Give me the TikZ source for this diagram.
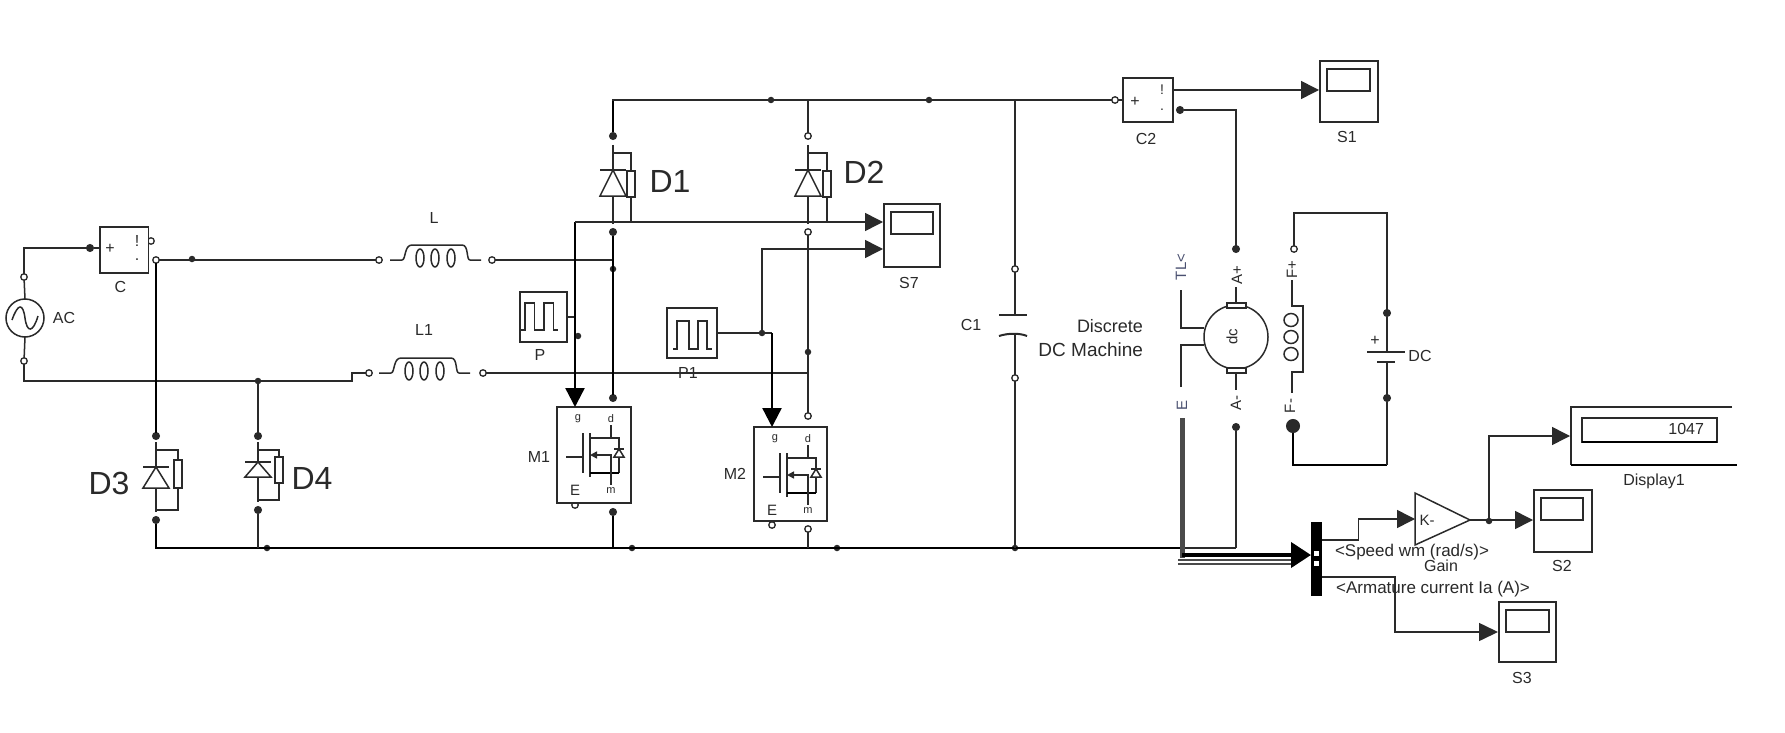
\documentclass[tikz,border=0pt]{standalone}
\usepackage{fontspec}
\setmainfont{Liberation Sans}
\usetikzlibrary{arrows.meta,calc}
\definecolor{ink}{HTML}{2A2A2A}
\definecolor{busgray}{HTML}{4A4A4A}
\definecolor{bluetxt}{HTML}{4A5070}
\tikzset{
  wire/.style={draw=ink,line width=1.5pt},
  heavy/.style={draw=black,line width=2.4pt},
  sig/.style={wire,-{Triangle[length=18pt,width=18pt]}},
  hsig/.style={heavy,-{Triangle[length=19pt,width=19pt]}},
  port/.style={circle,draw=ink,fill=white,line width=1.3pt,inner sep=0pt,minimum size=6.5pt,outer sep=0pt},
  pfill/.style={circle,draw=ink,fill=ink,line width=1pt,inner sep=0pt,minimum size=7pt,outer sep=0pt},
  jdot/.style={circle,fill=ink,inner sep=0pt,minimum size=6.5pt,outer sep=0pt},
  blk/.style={rectangle,draw=ink,line width=1.6pt,fill=white,inner sep=0pt,outer sep=0pt},
  lab/.style={inner sep=0pt,outer sep=0pt,font=\fontsize{16}{16}\selectfont,text=ink},
  big/.style={lab,font=\fontsize{32}{32}\selectfont},
  rot/.style={lab,rotate=90,font=\fontsize{15}{15}\selectfont},
}
\newcommand\lbl[5][]{\node[lab,#1] (#2) at (#3,#4) {#5};}
\newcommand\scopeb[6]{%
  \node[blk,minimum width=#4pt,minimum height=#5pt] (#1) at (#2,#3) {};
  \node[blk,anchor=north west,minimum width=#6pt,minimum height=22pt] (#1i) at ([xshift=7pt,yshift=-8pt]#1.north west) {};}
\newcommand\pdiode[8]{% x, topwire, bar, base, bottom, resTop, resBot, right
  \begin{scope}[shift={(#1,0)}]
    \draw[wire] (0,#2) -- (0,#5);
    \draw[wire] (0,#2+8) -- (#8,#2+8) -- (#8,#5-2) -- (0,#5-2);
    \draw[wire,fill=white] (#8-4,#6) rectangle (#8+4,#7);
    \draw[wire,fill=white] (0,#3) -- (-13,#4) -- (13,#4) -- cycle;
    \draw[wire] (-13,#3) -- (13,#3);
  \end{scope}}
\newcommand\coil[2]{%
  \begin{scope}[shift={(#1,#2)}]
    \draw[wire] (0,0) -- (12,0) .. controls (16,0) and (14,-15) .. (22,-15) -- (72,-15) .. controls (79,-15) and (76,0) .. (80,0) -- (91,0);
    \foreach \cx in {30,45,61} \draw[wire,fill=white] (\cx,-2) ellipse (4pt and 9pt);
  \end{scope}}
\newcommand\mosfet[5]{% name, x, y, w, h
  \node[blk,anchor=north west,minimum width=#4pt,minimum height=#5pt] (#1) at (#2,#3) {};
  \begin{scope}[shift={(#2,#3)}]
    \draw[wire] (9,50) -- (26,50);
    \draw[wire] (26,26) -- (26,66);
    \draw[wire] (33,26) -- (33,70);
    \draw[wire] (33,31) -- (62,31) -- (62,66);
    \draw[heavy] (33,66) -- (62,66);
    \draw[wire] (54,18) -- (54,31);
    \draw[wire,{Triangle[length=7pt,width=7pt]}-] (33,48) -- (54,48) -- (54,78);
    \draw[wire,fill=white] (62,42) -- (57,50) -- (67,50) -- cycle;
    \draw[wire] (57,42) -- (67,42);
    \node[lab,font=\fontsize{11}{11}\selectfont] (#1g) at (21,12) {g};
    \node[lab,font=\fontsize{11}{11}\selectfont] (#1d) at (54,12) {d};
    \node[lab,font=\fontsize{15}{15}\selectfont] (#1e) at (18,83) {E};
    \node[lab,font=\fontsize{11}{11}\selectfont] (#1m) at (54,84) {m};
  \end{scope}}
\begin{document}
\begin{tikzpicture}[x=1pt,y=-1pt]
\useasboundingbox[fill=white] (0,0) rectangle (1785,733);

% ---------- ports and junctions
\foreach \n/\x/\y in {pACt/24/277,pACb/24/361,pCr1/151/241,pLa/379/260,pLb/492/260,pL1a/369/373,pL1b/483/373,
  pD2t/808/136,pD2b/808/232,pM2t/808/416,pM2b/808/529,pM1g/575/505,pM2g/772/525,pC1t/1015/269,pC1b/1015/378,pFp/1294/249,pC2in/1115/100,pCr2/156/260}
  \node[port] (\n) at (\x,\y) {};
\foreach \n/\x/\y in {pCin/90/248,pD3t/156/436,pD3b/156/520,pD4t/258/436,pD4b/258/510,pD1t/613/136,pD1b/613/232,
  pM1t/613/398,pM1b/613/512,pC2m/1180/110,pAp/1236/249,pAm/1236/427,pDCp/1387/313,pDCm/1387/398}
  \node[pfill] (\n) at (\x,\y) {};
\node[pfill,minimum size=13pt] (pFm) at (1293,426) {};
\foreach \n/\x/\y in {dCL/192/259,dD4/258/381,dGa/267/548,dD1/613/269,dPs/578/336,dRa/771/100,dRb/929/100,dP1/762/333,dD2/808/352,dGb/632/548,dGc/837/548,dGd/1015/548,dGain/1489/521}
  \node[jdot] (\n) at (\x,\y) {};

% ---------- blocks
\scopeb{S7}{912}{235.5}{56}{63}{42}
\scopeb{S1}{1349}{91.5}{58}{61}{43}
\scopeb{S2}{1563}{521}{58}{62}{42}
\scopeb{S3}{1527.5}{632}{57}{60}{43}
\node[blk,minimum width=48.5pt,minimum height=46pt] (C) at (124.25,250) {};
\node[blk,minimum width=50pt,minimum height=44pt] (C2) at (1148,100) {};
\node[blk,minimum width=47pt,minimum height=50pt] (P) at (543.5,317) {};
\node[blk,minimum width=50pt,minimum height=50pt] (P1) at (692,333) {};
\node[circle,draw=ink,line width=1.5pt,fill=white,minimum size=38pt,inner sep=0pt,outer sep=0pt] (AC) at (25,318) {};
\node[circle,draw=ink,line width=1.5pt,fill=white,minimum size=64pt,inner sep=0pt,outer sep=0pt] (mot) at (1236,337) {};
\mosfet{M1}{557}{407}{74}{96}
\mosfet{M2}{754}{427}{73}{94}
\node[rectangle,fill=black,minimum width=11pt,minimum height=74pt,inner sep=0pt,outer sep=0pt] (dmx) at (1316.5,559) {};

% ---------- coordinates for free ends and bends
\coordinate (acA) at (352,381);
\coordinate (acB) at (352,373);
\coordinate (jL1) at (808,373);
\coordinate (jL) at (613,260);
\coordinate (jP) at (575,317);
\coordinate (jPtop) at (575,222);
\coordinate (S7a) at (883,222);
\coordinate (S7b) at (883,249);
\coordinate (M1in) at (575,407);
\coordinate (jP1) at (772,333);
\coordinate (M2in) at (772,427);
\coordinate (gndE) at (1182,548);
\coordinate (gndF) at (1236,548);
\coordinate (S1a) at (1319,90);
\coordinate (gIn) at (1415,519);
\coordinate (gOut) at (1470,520);
\coordinate (S2a) at (1533,520);
\coordinate (S3a) at (1498,632);
\coordinate (Dpa) at (1570,436);
\coordinate (busTop) at (1182,418);
\coordinate (busTip) at (1311,555);
\coordinate (dmx1) at (1322,540);
\coordinate (dmx1b) at (1358.5,540);
\coordinate (dmx2) at (1322,577);
\coordinate (bend3) at (1395,577);

% ---------- source side
\draw[wire] (AC.north) -- (pACt);
\draw[wire] (AC.south) -- (pACb);
\draw[wire] (pACt) |- (pCin);
\draw[wire] (pCin) -- (C.west |- pCin);
\draw[wire] (pACb) |- (acA) -- (acB) -- (pL1a);
\draw[wire] (pCr2) -- (pLa);
\draw[heavy] (pCr2) -- (pD3t);
\draw[wire] (dD4) -- (pD4t);
\draw[wire] (pLb) -- (jL);
\draw[wire] (pL1b) -- (jL1);
\draw[wire] (C.east |- pCr1) -- (pCr1);
\coil{390}{260}
\coil{379}{373}

% ---------- rail
\draw[wire] (pD1t) |- (pC2in);
\draw[wire] (pD2t) -- (pD2t |- pC2in);
\draw[heavy] (pD1t) -- +(0,-35);
\draw[wire] (pC1t) -- (pC1t |- pC2in);
\draw[wire] (pC2in) -- (C2.west |- pC2in);

% ---------- diodes
\pdiode{613}{145}{170}{196}{224}{171}{197}{18}
\pdiode{808}{145}{170}{196}{224}{171}{197}{19}
\pdiode{156}{442}{467}{488}{512}{460}{488}{22}
\pdiode{258}{442}{462}{477}{502}{457}{483}{21}

% ---------- middle legs
\draw[heavy] (pD1b) -- (pM1t);
\draw[wire] (pD2b) -- (pM2t);
\draw[wire] (P.east) -- (jP);
\draw[heavy] (jP) -- (jPtop);
\draw[sig] (jPtop) -- (S7a);
\draw[hsig] (jP) -- (M1in);
\draw[sig] (dP1) |- (S7b);
\draw[wire] (P1.east) -- (jP1);
\draw[hsig] (jP1) -- (M2in);

% ---------- bottom rail
\draw[heavy] (pD3b) |- (gndE);
\draw[wire] (gndE) -- (gndF);
\draw[wire] (pD4b) -- (pD4b |- gndE);
\draw[heavy] (pM1b) -- (pM1b |- gndE);
\draw[wire] (pM2b) -- (pM2b |- gndE);
\draw[wire] (pC1b) -- (pC1b |- gndE);
\draw[wire] (pAm) -- (gndF);

% ---------- capacitor C1
\coordinate (c1a) at (1015,315);
\coordinate (c1b) at (1015,334);
\draw[wire] (pC1t) -- (c1a);
\draw[wire] (c1b) -- (pC1b);
\draw[line width=2pt,draw=ink] (999,315) -- (1027,315);
\draw[line width=2pt,draw=ink] (999,336) .. controls (1008,333) and (1020,333) .. (1027,336);

% ---------- measurement C2 and S1
\draw[sig] (C2.east |- S1a) -- (S1a);
\draw[wire] (pC2m) -| (pAp);

% ---------- machine
\draw[wire,fill=white] (1227,303) rectangle (1246,308);
\draw[wire,fill=white] (1227,368) rectangle (1246,373);
\draw[wire] (1236,287) -- (1236,303);
\draw[wire] (1236,373) -- (1236,390);
\coordinate (tlA) at (1181,290);
\coordinate (tlB) at (1181,328);
\coordinate (mA) at (1181,345);
\coordinate (mB) at (1181,387);
\draw[wire] (tlA) -- (tlB) -- (mot.west |- tlB);
\draw[wire] (mB) -- (mA) -- (mot.west |- mA);
\draw[wire] (1292,280) -- (1292,306) -- (1303,306) -- (1303,372) -- (1292,372) -- (1292,393);
\foreach \cy in {320,337,354} \draw[wire,fill=white] (1291,\cy) ellipse (7pt and 6.5pt);
\coordinate (fTop) at (1387,213);
\coordinate (fBot) at (1387,465);
\draw[wire] (pFp) |- (fTop) -- (pDCp);
\draw[heavy] (pFm) |- (fBot);
\draw[wire] (fBot) -- (pDCm);
\draw[wire] (pDCp) -- (1387,352);
\draw[wire] (1387,362) -- (pDCm);
\draw[line width=1.8pt,draw=ink] (1367,352) -- (1405,352);
\draw[line width=1.4pt,draw=ink] (1377,362) -- (1395,362);

% ---------- bus and outputs
\draw[line width=5pt,draw=busgray] (busTop) -- (1182,558);
\draw[line width=5.5pt,draw=busgray] (1178,562) -- (1292,562);
\draw[line width=2pt,draw=white] (1178,562) -- (1292,562);
\draw[line width=4pt,draw=black,-{Triangle[length=20pt,width=25pt]}] (1182,555) -- (busTip);
\node[rectangle,fill=white,minimum size=5pt,inner sep=0pt] (dmxa) at (1316.5,553) {};
\node[rectangle,fill=white,minimum size=5pt,inner sep=0pt] (dmxb) at (1316.5,563) {};
\draw[sig] (dmx1) -- (dmx1b) |- (gIn);
\draw[wire] (gIn) -- (1415,493) -- (gOut) -- (1415,545) -- cycle;
\draw[sig] (gOut) -- (S2a);
\draw[sig] (dGain) |- (Dpa);
\draw[wire,-{Triangle[length=19pt,width=18pt]}] (dmx2) -- (bend3) |- (S3a);

% ---------- display
\coordinate (dA) at (1732,407);
\coordinate (dB) at (1571,407);
\coordinate (dC) at (1571,465);
\coordinate (dD) at (1737,465);
\draw[wire] (dA) -- (dB) -- (dC);
\draw[heavy] (dC) -- (dD);
\node[blk,minimum width=135pt,minimum height=24pt] (disp) at (1649.5,430) {};
\draw[heavy] (disp.south west) -- (disp.south east);

% ---------- pulses
\draw[wire] (521,330) -- (525,330) -- (525,303) -- (534.5,303) -- (534.5,330) -- (544,330) -- (544,303) -- (553.6,303) -- (553.6,330) -- (558,330);
\draw[wire] (673,349) -- (677,349) -- (677,321) -- (689,321) -- (689,349) -- (698,349) -- (698,321) -- (707,321) -- (707,349) -- (712,349);
\draw[wire] (12,320) .. controls (18,303) and (23,303) .. (25,318) .. controls (27,333) and (33,333) .. (38,316);

% ---------- text
\node[big] (tD1) at (670,181) {D1};
\node[big] (tD2) at (864,172) {D2};
\node[big] (tD3) at (109,483) {D3};
\node[big] (tD4) at (312,478) {D4};
\lbl{tAC}{64}{318}{AC}
\lbl{tC}{120.5}{287}{C}
\lbl{tL}{434}{218}{L}
\lbl{tL1}{424}{330}{L1}
\lbl{tP}{540}{355}{P}
\lbl{tP1}{688}{373}{P1}
\lbl{tM1}{539}{457}{M1}
\lbl{tM2}{735}{474}{M2}
\lbl{tS7}{909}{283}{S7}
\lbl{tC1}{971}{325}{C1}
\lbl[anchor=east,font=\fontsize{18}{18}\selectfont]{tDisc}{1143}{326}{Discrete}
\lbl[anchor=east,font=\fontsize{19}{19}\selectfont]{tDCM}{1143}{350}{DC Machine}
\lbl{tC2}{1146}{139}{C2}
\lbl{tS1}{1347}{137}{S1}
\lbl{tDC}{1420}{356}{DC}
\lbl{tS2}{1562}{566}{S2}
\lbl{tS3}{1522}{678}{S3}
\lbl{tGain}{1441}{566}{Gain}
\lbl[font=\fontsize{17}{17}\selectfont]{tSpeed}{1412}{552}{<Speed wm (rad/s)>}
\lbl[font=\fontsize{17}{17}\selectfont]{tArm}{1433}{589}{<Armature current Ia (A)>}
\lbl{tDisplay}{1654}{481}{Display1}
\lbl[anchor=east]{tVal}{1704}{429}{1047}
\lbl[font=\fontsize{15}{15}\selectfont]{tK}{1427}{520}{K-}
\node[rot,text=bluetxt] (tTL) at (1181,267) {TL<};
\node[rot,text=bluetxt] (tE) at (1182,405) {E};
\node[rot] (tAp) at (1237,275) {A+};
\node[rot] (tAm) at (1236,403) {A-};
\node[rot] (tFp) at (1292,270) {F+};
\node[rot] (tFm) at (1290,406) {F-};
\node[rot] (tdc) at (1232,337) {dc};
% C and C2 sign marks
\lbl{tCp}{110}{249}{+}
\lbl{tCb}{137}{241}{!}
\lbl{tCm}{137}{260}{.}
\lbl{tC2p}{1135}{102}{+}
\lbl[font=\fontsize{14}{14}\selectfont]{tC2b}{1162}{90}{!}
\lbl[font=\fontsize{14}{14}\selectfont]{tC2m}{1162}{110}{.}
\node[lab] (tDCp) at (1375,341) {+};
\end{tikzpicture}
\end{document}
